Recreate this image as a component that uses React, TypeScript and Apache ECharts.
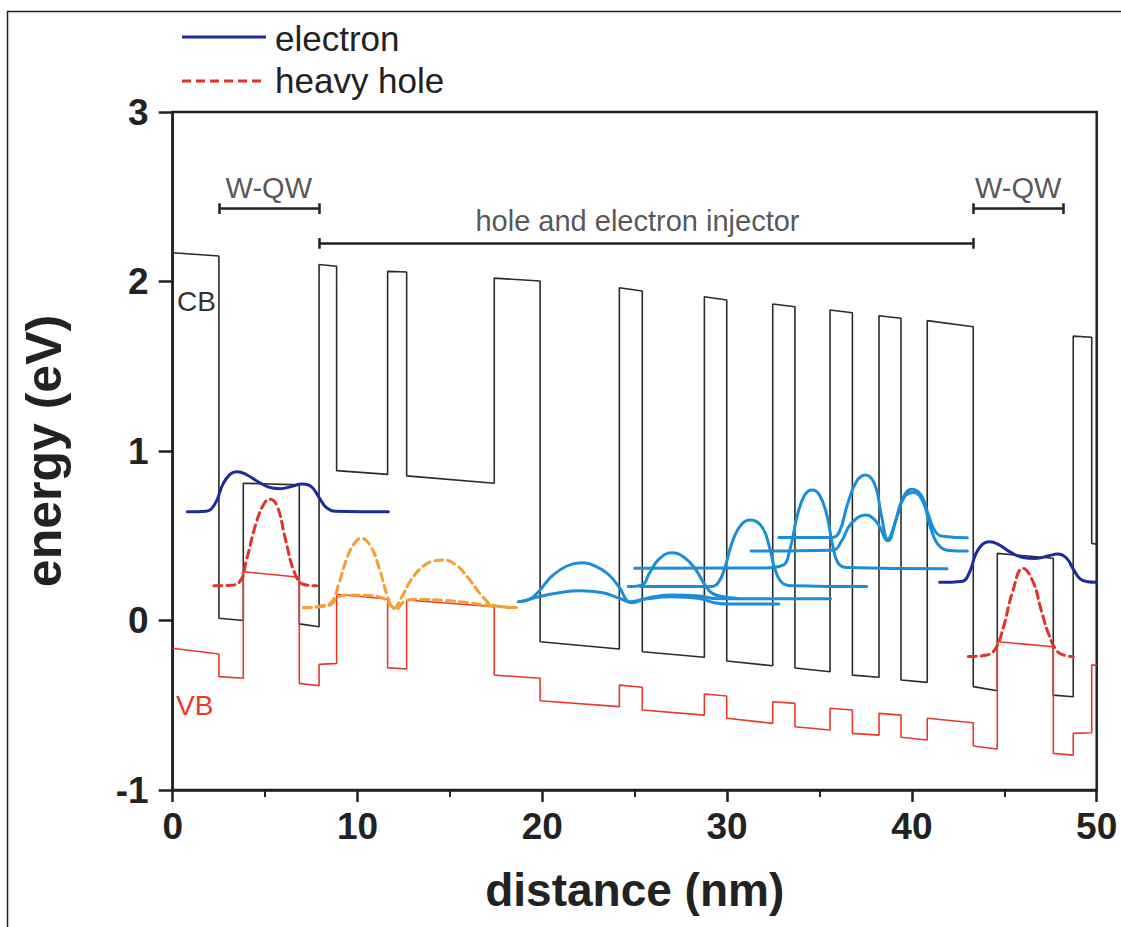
import React, { useEffect, useRef } from "react";
import * as echarts from "echarts";

// ---------- data (distance nm, energy eV) ----------
const cbProfile: number[][] = [
  [0, 2.17], [2.5, 2.15], [2.5, 0.013], [3.82, 0.0], [3.82, 0.81], [6.85, 0.8], [6.85, -0.02], [7.92, -0.037],
  [7.92, 2.1], [8.87, 2.09], [8.87, 0.884], [11.63, 0.862], [11.63, 2.06], [12.66, 2.056], [12.66, 0.853],
  [17.4, 0.81], [17.4, 2.02], [19.88, 2.003], [19.88, -0.125], [24.17, -0.168], [24.17, 1.963], [25.41, 1.944],
  [25.41, -0.184], [28.77, -0.217], [28.77, 1.91], [29.98, 1.891], [29.98, -0.239], [32.47, -0.267],
  [32.47, 1.867], [33.67, 1.851], [33.67, -0.28], [35.57, -0.302], [35.57, 1.832], [36.78, 1.816],
  [36.78, -0.322], [38.22, -0.335], [38.22, 1.798], [39.41, 1.783], [39.41, -0.351], [40.83, -0.365],
  [40.83, 1.769], [43.32, 1.733], [43.32, -0.39], [44.62, -0.414], [44.62, 0.396], [47.65, 0.367],
  [47.65, -0.44], [48.73, -0.45], [48.73, 1.678], [49.73, 1.671], [49.73, 0.455], [50, 0.45],
];

const vbProfile: number[][] = [
  [0, -0.164], [2.5, -0.198], [2.5, -0.331], [3.82, -0.341], [3.82, 0.288], [6.85, 0.255], [6.85, -0.371],
  [7.92, -0.385], [7.92, -0.259], [8.87, -0.253], [8.87, 0.155], [11.63, 0.127], [11.63, -0.278],
  [12.66, -0.286], [12.66, 0.121], [17.4, 0.081], [17.4, -0.322], [19.88, -0.341], [19.88, -0.473],
  [24.17, -0.508], [24.17, -0.381], [25.41, -0.394], [25.41, -0.528], [28.77, -0.558], [28.77, -0.434],
  [29.98, -0.445], [29.98, -0.577], [32.47, -0.607], [32.47, -0.479], [33.67, -0.489], [33.67, -0.627],
  [35.57, -0.646], [35.57, -0.518], [36.78, -0.528], [36.78, -0.666], [38.22, -0.676], [38.22, -0.548],
  [39.41, -0.558], [39.41, -0.689], [40.83, -0.705], [40.83, -0.577], [43.32, -0.603], [43.32, -0.74],
  [44.62, -0.758], [44.62, -0.125], [47.65, -0.155], [47.65, -0.784], [48.73, -0.794], [48.73, -0.666],
  [49.73, -0.662], [49.73, -0.263], [50, -0.263],
];

const electronLeft: number[][] = [
  [0.79, 0.642], [1.8, 0.645], [2.3, 0.69], [2.7, 0.8], [3.1, 0.862], [3.5, 0.878], [4.0, 0.86], [4.6, 0.82],
  [5.2, 0.787], [5.8, 0.778], [6.4, 0.79], [7.0, 0.805], [7.5, 0.79], [7.9, 0.73], [8.3, 0.668], [8.8, 0.645],
  [11.67, 0.642],
];
const electronRight: number[][] = [
  [41.5, 0.225], [42.7, 0.23], [43.1, 0.28], [43.45, 0.39], [43.8, 0.448], [44.2, 0.465], [44.7, 0.448],
  [45.3, 0.405], [46.0, 0.372], [46.7, 0.366], [47.4, 0.382], [47.9, 0.393], [48.35, 0.37], [48.75, 0.3],
  [49.1, 0.245], [49.5, 0.228], [50, 0.225],
];

const holeLeft: number[][] = [
  [2.23, 0.205], [3.0, 0.207], [3.6, 0.225], [4.0, 0.36], [4.5, 0.57], [4.95, 0.69], [5.27, 0.715],
  [5.65, 0.675], [6.1, 0.48], [6.6, 0.28], [7.1, 0.212], [7.79, 0.205],
];
const holeRight: number[][] = [
  [43.05, -0.213], [44.0, -0.205], [44.5, -0.17], [44.95, -0.04], [45.45, 0.17], [46.0, 0.308], [46.55, 0.23],
  [47.0, 0.06], [47.4, -0.08], [47.85, -0.18], [48.3, -0.207], [48.73, -0.213],
];

const injHoleUpper: number[][] = [
  [7.07, 0.075], [8.0, 0.085], [8.6, 0.11], [9.0, 0.22], [9.4, 0.36], [9.8, 0.45], [10.2, 0.485], [10.7, 0.44],
  [11.2, 0.3], [11.6, 0.15], [11.95, 0.07], [12.4, 0.14], [12.9, 0.24], [13.5, 0.315], [14.1, 0.35],
  [14.64, 0.357], [15.3, 0.33], [16.0, 0.25], [16.7, 0.15], [17.35, 0.09], [18.6, 0.076],
];
const injHoleLower: number[][] = [
  [7.07, 0.075], [8.5, 0.09], [8.9, 0.135], [9.5, 0.15], [10.5, 0.148], [11.4, 0.13], [11.8, 0.09],
  [12.1, 0.065], [12.5, 0.11], [13.2, 0.125], [14.5, 0.12], [16, 0.105], [17.4, 0.085], [18.6, 0.076],
];

const injE1: number[][] = [
  [18.7, 0.111], [19.3, 0.125], [19.8, 0.17], [20.5, 0.26], [21.3, 0.32], [22.1, 0.34], [22.9, 0.32],
  [23.6, 0.27], [24.2, 0.19], [24.75, 0.11], [25.5, 0.125], [27, 0.14], [28.5, 0.13], [29.3, 0.105],
  [30, 0.098], [32.8, 0.097],
];
const injE0: number[][] = [
  [18.9, 0.112], [19.8, 0.14], [21, 0.165], [22, 0.175], [23.2, 0.165], [24.2, 0.13], [24.9, 0.105],
  [25.6, 0.13], [27, 0.15], [28.5, 0.145], [29.3, 0.13], [30, 0.128], [35.6, 0.128],
];
const injE2: number[][] = [
  [24.65, 0.2], [25.4, 0.21], [25.8, 0.28], [26.3, 0.36], [27.0, 0.4], [27.7, 0.37], [28.3, 0.3],
  [28.8, 0.21], [29.2, 0.16], [29.8, 0.14], [30.5, 0.132],
];
const injE3: number[][] = [
  [25.3, 0.2], [29.0, 0.2], [29.5, 0.22], [29.9, 0.32], [30.3, 0.47], [30.8, 0.57], [31.3, 0.593],
  [31.9, 0.55], [32.3, 0.43], [32.6, 0.3], [33.0, 0.22], [33.5, 0.205], [37.55, 0.2],
];
const injE4: number[][] = [
  [25.0, 0.308], [32.0, 0.31], [33.0, 0.325], [33.4, 0.42], [33.8, 0.62], [34.2, 0.74], [34.6, 0.77],
  [35.0, 0.74], [35.4, 0.62], [35.7, 0.45], [36.0, 0.34], [36.5, 0.312], [41.9, 0.305],
];
const injE5: number[][] = [
  [32.8, 0.49], [35.7, 0.49], [36.1, 0.53], [36.5, 0.68], [37.0, 0.82], [37.5, 0.858], [38.0, 0.8],
  [38.35, 0.62], [38.7, 0.48], [39.05, 0.56], [39.5, 0.72], [40.0, 0.775], [40.5, 0.74], [40.9, 0.62],
  [41.3, 0.52], [41.8, 0.495], [43.0, 0.488],
];
const injE6: number[][] = [
  [31.3, 0.41], [35.7, 0.415], [36.2, 0.47], [36.7, 0.57], [37.5, 0.622], [38.1, 0.58], [38.7, 0.47],
  [39.15, 0.6], [39.6, 0.73], [40.1, 0.755], [40.6, 0.7], [41.0, 0.55], [41.4, 0.45], [41.9, 0.415],
  [43.0, 0.41],
];

// brackets: [x1, x2, energy]
const brackets: number[][] = [
  [2.52, 7.92, 2.43],
  [7.92, 43.3, 2.225],
  [43.3, 48.18, 2.43],
];
const annotations: { name: string; value: number[] }[] = [
  { name: "W-QW", value: [5.2, 2.55] },
  { name: "W-QW", value: [45.75, 2.55] },
  { name: "hole and electron injector", value: [25.15, 2.357] },
];

const legendItems = ["electron", "heavy hole"];

const COL_CB = "#2b2b2b";
const COL_VB = "#e8392f";
const COL_E = "#1d2c9c";
const COL_HH = "#e2302a";
const COL_OR = "#f2a035";
const COL_LB = "#1b8ed6";
const SANS = "'Liberation Sans', Arial, Helvetica, sans-serif";

function wave(name: string, data: number[][], color: string, dashed: boolean, width = 3) {
  return {
    type: "line",
    name,
    data,
    showSymbol: false,
    symbol: "none",
    smooth: 0.45,
    lineStyle: { color, width, type: dashed ? [8, 5] : "solid", cap: "round", join: "round" },
    z: 5,
  };
}

export default function App() {
  const ref = useRef<HTMLDivElement>(null);
  useEffect(() => {
    if (!ref.current) return;
    const chart = echarts.init(ref.current, undefined, { renderer: "svg" });

    const bracketLines: any[] = [];
    const capH = 0.032;
    brackets.forEach(([x1, x2, y]) => {
      bracketLines.push({ coords: [[x1, y], [x2, y]] });
      bracketLines.push({ coords: [[x1, y - capH], [x1, y + capH]] });
      bracketLines.push({ coords: [[x2, y - capH], [x2, y + capH]] });
    });

    const option: any = {
      animation: false,
      grid: {
        left: 172.7, top: 112, right: 24.3, bottom: 137, show: true, borderColor: "#222", borderWidth: 2.5,
        backgroundColor: "transparent", containLabel: false, outerBoundsMode: "none",
      },
      xAxis: {
        type: "value", min: 0, max: 50, interval: 10,
        axisLine: { show: true, onZero: false, lineStyle: { color: "#222", width: 2.5 } },
        axisTick: { show: true, inside: false, length: 12, lineStyle: { color: "#222", width: 2.5 } },
        minorTick: { show: true, splitNumber: 2, length: 7, lineStyle: { color: "#222", width: 2 } },
        splitLine: { show: false },
        axisLabel: { fontFamily: SANS, fontWeight: "bold", fontSize: 37, color: "#222", margin: 18 },
        name: "distance (nm)", nameLocation: "middle", nameGap: 77,
        nameTextStyle: { fontFamily: SANS, fontWeight: "bold", fontSize: 46, color: "#222" },
      },
      yAxis: {
        type: "value", min: -1, max: 3, interval: 1,
        axisLine: { show: true, onZero: false, lineStyle: { color: "#222", width: 2.5 } },
        axisTick: { show: true, inside: false, length: 14, lineStyle: { color: "#222", width: 2.5 } },
        splitLine: { show: false },
        axisLabel: { fontFamily: SANS, fontWeight: "bold", fontSize: 37, color: "#222", margin: 24 },
        name: "energy (eV)", nameLocation: "middle", nameGap: 104, nameRotate: 90,
        nameTextStyle: { fontFamily: SANS, fontWeight: "bold", fontSize: 50, color: "#222" },
      },
      series: [
        { type: "line", name: "CB", data: cbProfile, showSymbol: false, symbol: "none", lineStyle: { color: COL_CB, width: 1.6 }, z: 3 },
        { type: "line", name: "VB", data: vbProfile, showSymbol: false, symbol: "none", lineStyle: { color: COL_VB, width: 1.6 }, z: 3 },
        wave("injE0", injE0, COL_LB, false),
        wave("injE1", injE1, COL_LB, false),
        wave("injE2", injE2, COL_LB, false),
        wave("injE3", injE3, COL_LB, false),
        wave("injE4", injE4, COL_LB, false),
        wave("injE5", injE5, COL_LB, false),
        wave("injE6", injE6, COL_LB, false),
        wave("injHoleLower", injHoleLower, COL_OR, true),
        wave("injHoleUpper", injHoleUpper, COL_OR, true),
        wave("electronL", electronLeft, COL_E, false),
        wave("electronR", electronRight, COL_E, false),
        wave("holeL", holeLeft, COL_HH, true),
        wave("holeR", holeRight, COL_HH, true),
        {
          type: "lines", coordinateSystem: "cartesian2d", polyline: false, data: bracketLines,
          lineStyle: { color: "#222", width: 2.5, opacity: 1 }, z: 4,
        },
        {
          type: "scatter", data: annotations, symbolSize: 0, z: 6,
          label: {
            show: true, position: "inside", formatter: (p: any) => p.name,
            fontFamily: SANS, fontSize: 29, color: "#2a2a2a",
          },
        },
      ],
      graphic: [
        { type: "rect", shape: { x: 7.5, y: 11.5, width: 1200, height: 1000 }, style: { fill: "none", stroke: "#222", lineWidth: 1.5 }, silent: true },
        { type: "line", shape: { x1: 182, y1: 37, x2: 266, y2: 37 }, style: { stroke: COL_E, lineWidth: 3 } },
        { type: "text", x: 275, y: 38, style: { text: legendItems[0], fontFamily: SANS, fontSize: 35, fill: "#222", verticalAlign: "middle" } },
        { type: "line", shape: { x1: 182, y1: 81, x2: 266, y2: 81 }, style: { stroke: COL_HH, lineWidth: 3, lineDash: [9, 5] } },
        { type: "text", x: 275, y: 80, style: { text: legendItems[1], fontFamily: SANS, fontSize: 35, fill: "#222", verticalAlign: "middle" } },
        { type: "text", x: 177, y: 301, style: { text: "CB", fontFamily: SANS, fontSize: 28, fill: "#333", verticalAlign: "middle" } },
        { type: "text", x: 176, y: 705, style: { text: "VB", fontFamily: SANS, fontSize: 28, fill: COL_VB, verticalAlign: "middle" } },
      ],
    };
    chart.setOption(option);
    return () => chart.dispose();
  }, []);
  return <div ref={ref} style={{ position: "fixed", left: 0, top: 0, width: 1121, height: 927, background: "#fff" }} />;
}
